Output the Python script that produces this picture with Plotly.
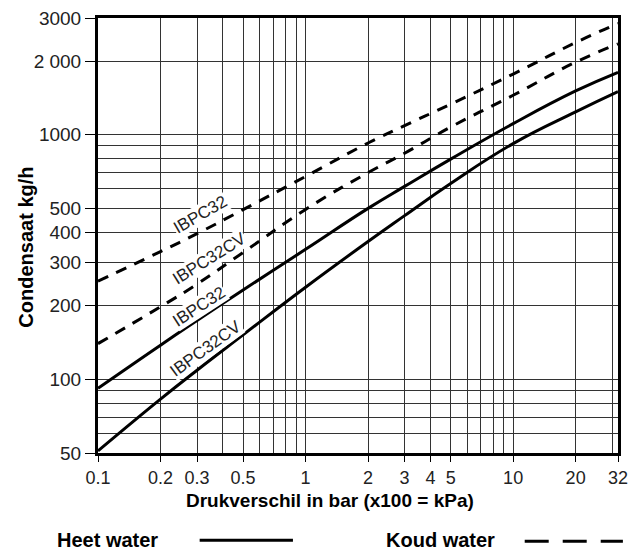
import math
import plotly.graph_objects as go

# ---------------- data ----------------
pressure_bar = [0.1, 0.2, 0.3, 0.5, 1, 2, 3, 5, 10, 20, 32]

hot_ibpc32 = [92, 138, 174, 232, 340, 500, 615, 795, 1110, 1510, 1800]
hot_ibpc32cv = [51, 83, 109, 152, 238, 366, 467, 632, 920, 1240, 1500]
cold_ibpc32 = [252, 333, 394, 494, 675, 925, 1090, 1333, 1770, 2380, 2850]
cold_ibpc32cv = [140, 198, 245, 330, 495, 700, 840, 1075, 1450, 1980, 2350]

x_tick_vals = [0.1, 0.2, 0.3, 0.5, 1, 2, 3, 4, 5, 10, 20, 32]
x_tick_text = ["0.1", "0.2", "0.3", "0.5", "1", "2", "3", "4", "5", "10", "20", "32"]
x_minor_vals = [0.4, 0.6, 0.7, 0.8, 0.9, 6, 7, 8, 9, 30]

y_tick_vals = [50, 100, 200, 300, 400, 500, 1000, 2000, 3000]
y_tick_text = ["50", "100", "200", "300", "400", "500", "1000", "2 000", "3000"]
y_minor_vals = [60, 70, 80, 90, 600, 700, 800, 900]

series_labels = ["IBPC32", "IBPC32CV", "IBPC32", "IBPC32CV"]
legend_texts = ["Heet water", "Koud water"]
x_title = "Drukverschil in bar (x100 = kPa)"
y_title = "Condensaat kg/h"

FONT = "Liberation Sans, Arial, Helvetica, sans-serif"
GRID = "#333333"

fig = go.Figure()

series = [
    (cold_ibpc32, "11px,9px"),
    (cold_ibpc32cv, "11px,9px"),
    (hot_ibpc32, "solid"),
    (hot_ibpc32cv, "solid"),
]
for vals, dash in series:
    fig.add_trace(go.Scatter(
        x=pressure_bar, y=vals, mode="lines",
        line=dict(color="black", width=3, dash=dash, shape="spline", smoothing=1.3),
        showlegend=False, hoverinfo="skip",
    ))

# labels along the curves: (label, x value, y value, angle)
label_pos = [
    (series_labels[0], 0.312, 472, -30),
    (series_labels[1], 0.344, 312, -32),
    (series_labels[2], 0.308, 198, -33),
    (series_labels[3], 0.330, 134, -36),
]
annotations = []
for text, xv, yv, ang in label_pos:
    annotations.append(dict(
        text=text, x=math.log10(xv), y=math.log10(yv), xref="x", yref="y",
        showarrow=False, textangle=ang, bgcolor="white", borderpad=0,
        font=dict(family=FONT, size=17, color="#222222"),
    ))

# axis titles
annotations.append(dict(
    text="<b>%s</b>" % x_title, x=0.4466, y=-0.1086, xref="paper", yref="paper",
    showarrow=False, xanchor="center", yanchor="middle",
    font=dict(family=FONT, size=19, color="black"),
))
annotations.append(dict(
    text="<b>%s</b>" % y_title, x=-0.1388, y=0.474, xref="paper", yref="paper",
    showarrow=False, xanchor="center", yanchor="middle", textangle=-90,
    font=dict(family=FONT, size=20, color="black"),
))
# legend texts
annotations.append(dict(
    text="<b>%s</b>" % legend_texts[0], x=-0.0822, y=-0.2004, xref="paper", yref="paper",
    showarrow=False, xanchor="left", yanchor="middle",
    font=dict(family=FONT, size=20, color="black"),
))
annotations.append(dict(
    text="<b>%s</b>" % legend_texts[1], x=0.5505, y=-0.2004, xref="paper", yref="paper",
    showarrow=False, xanchor="left", yanchor="middle",
    font=dict(family=FONT, size=20, color="black"),
))

shapes = [
    dict(type="line", xref="paper", yref="paper", x0=0.1955, x1=0.3749, y0=-0.2004, y1=-0.2004,
         line=dict(color="black", width=3)),
    dict(type="line", xref="paper", yref="paper", x0=0.8206, x1=1.0094, y0=-0.2027, y1=-0.2027,
         line=dict(color="black", width=3, dash="24px,14px")),
]

axis_common = dict(
    type="log", showgrid=True, gridcolor=GRID, gridwidth=1, zeroline=False,
    showline=True, linewidth=3, linecolor="black", mirror=True,
    ticks="outside", tickwidth=1, tickcolor="black", tickmode="array",
)

fig.update_layout(
    width=636, height=551,
    margin=dict(l=98, r=8, t=17, b=98, pad=0),
    paper_bgcolor="white", plot_bgcolor="white",
    xaxis=dict(
        **axis_common, range=[math.log10(0.1), math.log10(32)],
        tickvals=x_tick_vals, ticktext=x_tick_text, ticklen=6,
        tickfont=dict(family=FONT, size=18, color="#222222"),
        minor=dict(tickvals=x_minor_vals, showgrid=True, gridcolor=GRID, gridwidth=1, ticks=""),
    ),
    yaxis=dict(
        **axis_common, range=[math.log10(50), math.log10(3000)],
        tickvals=y_tick_vals, ticktext=y_tick_text, ticklen=10,
        tickfont=dict(family=FONT, size=19, color="#222222"),
        minor=dict(tickvals=y_minor_vals, showgrid=True, gridcolor=GRID, gridwidth=1, ticks=""),
    ),
    annotations=annotations,
    shapes=shapes,
    showlegend=False,
)

fig.write_html(
    "out.html",
    config={"displayModeBar": False},
    post_script="document.body.style.margin='0px';document.body.style.overflow='hidden';",
)
